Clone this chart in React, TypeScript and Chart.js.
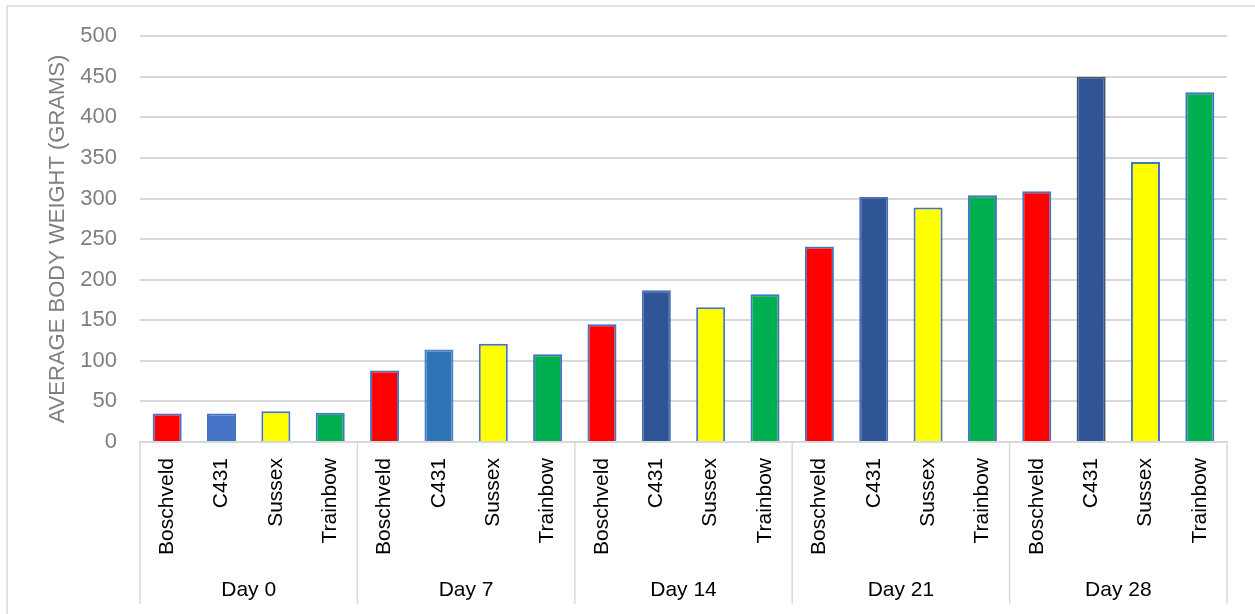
import React, { useEffect, useRef } from "react";
import { Chart, registerables } from "chart.js";

Chart.register(...registerables);

// ---- data ----
const days = ["Day 0", "Day 7", "Day 14", "Day 21", "Day 28"];
const breeds = ["Boschveld", "C431", "Sussex", "Trainbow"];
const boschveld = [35, 88, 145, 241, 309];
const c431 = [35, 114, 187, 302, 450];
const sussex = [38, 121, 166, 289, 345];
const trainbow = [36, 108, 182, 304, 431];
const yMin = 0;
const yMax = 500;
const yStep = 50;
const yTitle = "AVERAGE BODY WEIGHT (GRAMS)";

// ---- styles ----
const FONT = "'Liberation Sans', Arial, sans-serif";
const GRID = "#D9D9D9";
const GRAY_TEXT = "#7F7F7F";
const boschveldFill = "#FF0000";
const c431Fills = ["#4472C4", "#2E75B6", "#2F5597", "#2F5597", "#2F5597"];
const c431Borders = ["#4472C4", "#4F7FC8", "#4A6FB5", "#4A6FB5", "#44546A"];
const sussexFill = "#FFFF00";
const trainbowFill = "#00B050";
const outline = "#4472C4";

const axisPlugin = {
  id: "multiLevelAxis",
  afterDraw(chart: any) {
    const { ctx, scales, chartArea } = chart;
    const x = scales.x;
    ctx.save();
    // outer chart border (top and left visible)
    ctx.strokeStyle = GRID;
    ctx.lineWidth = 1.5;
    ctx.beginPath();
    ctx.moveTo(7, 614);
    ctx.lineTo(7, 6);
    ctx.lineTo(1255, 6);
    ctx.stroke();

    // group separators
    const n = days.length;
    const step = (x.right - x.left) / n;
    ctx.strokeStyle = GRID;
    ctx.lineWidth = 1.5;
    for (let i = 0; i <= n; i++) {
      const px = x.left + i * step;
      ctx.beginPath();
      ctx.moveTo(px, chartArea.bottom);
      ctx.lineTo(px, 604);
      ctx.stroke();
    }

    // breed labels (rotated)
    ctx.fillStyle = "#000000";
    ctx.font = `21px ${FONT}`;
    ctx.textAlign = "right";
    ctx.textBaseline = "middle";
    breeds.forEach((b, d) => {
      const meta = chart.getDatasetMeta(d);
      meta.data.forEach((el: any) => {
        ctx.save();
        ctx.translate(el.x, 458);
        ctx.rotate(-Math.PI / 2);
        ctx.fillText(b, 0, 0);
        ctx.restore();
      });
    });

    // day labels
    ctx.textAlign = "center";
    ctx.textBaseline = "alphabetic";
    ctx.font = `21px ${FONT}`;
    days.forEach((dname, i) => {
      ctx.fillText(dname, x.getPixelForValue(i), 596);
    });

    // y title
    ctx.save();
    ctx.fillStyle = GRAY_TEXT;
    ctx.font = `22px ${FONT}`;
    ctx.translate(58, 239);
    ctx.rotate(-Math.PI / 2);
    ctx.textAlign = "center";
    ctx.textBaseline = "middle";
    ctx.fillText(yTitle, 0, 0);
    ctx.restore();

    ctx.restore();
  },
};

export default function App() {
  const ref = useRef<HTMLCanvasElement | null>(null);

  useEffect(() => {
    if (!ref.current) return;
    const common = {
      borderWidth: 2,
      barPercentage: 0.534,
      categoryPercentage: 1,
    };
    const chart = new Chart(ref.current, {
      type: "bar",
      data: {
        labels: days,
        datasets: [
          { label: breeds[0], data: boschveld, backgroundColor: boschveldFill, borderColor: outline, ...common },
          { label: breeds[1], data: c431, backgroundColor: c431Fills, borderColor: c431Borders, ...common },
          { label: breeds[2], data: sussex, backgroundColor: sussexFill, borderColor: outline, ...common },
          { label: breeds[3], data: trainbow, backgroundColor: trainbowFill, borderColor: outline, ...common },
        ],
      },
      options: {
        responsive: false,
        animation: false,
        devicePixelRatio: 1,
        layout: { padding: { left: 0, right: 28, top: 35, bottom: 0 } },
        plugins: {
          legend: { display: false },
          tooltip: { enabled: false },
          title: { display: false },
        },
        scales: {
          x: {
            offset: true,
            ticks: { display: false },
            grid: { display: false },
            border: { display: true, color: GRID, width: 2 },
            afterFit: (s: any) => {
              s.height = 172;
            },
          },
          y: {
            min: yMin,
            max: yMax,
            ticks: {
              stepSize: yStep,
              color: GRAY_TEXT,
              font: { family: FONT, size: 22 },
              padding: 23,
            },
            grid: { color: GRID, lineWidth: 2, drawTicks: false },
            border: { display: false },
            afterFit: (s: any) => {
              s.width = 140;
            },
          },
        },
      },
      plugins: [axisPlugin],
    } as any);
    return () => chart.destroy();
  }, []);

  return (
    <div style={{ position: "absolute", left: 0, top: 0, width: 1255, height: 614, background: "#fff" }}>
      <canvas ref={ref} width={1255} height={614} style={{ display: "block" }} />
    </div>
  );
}
